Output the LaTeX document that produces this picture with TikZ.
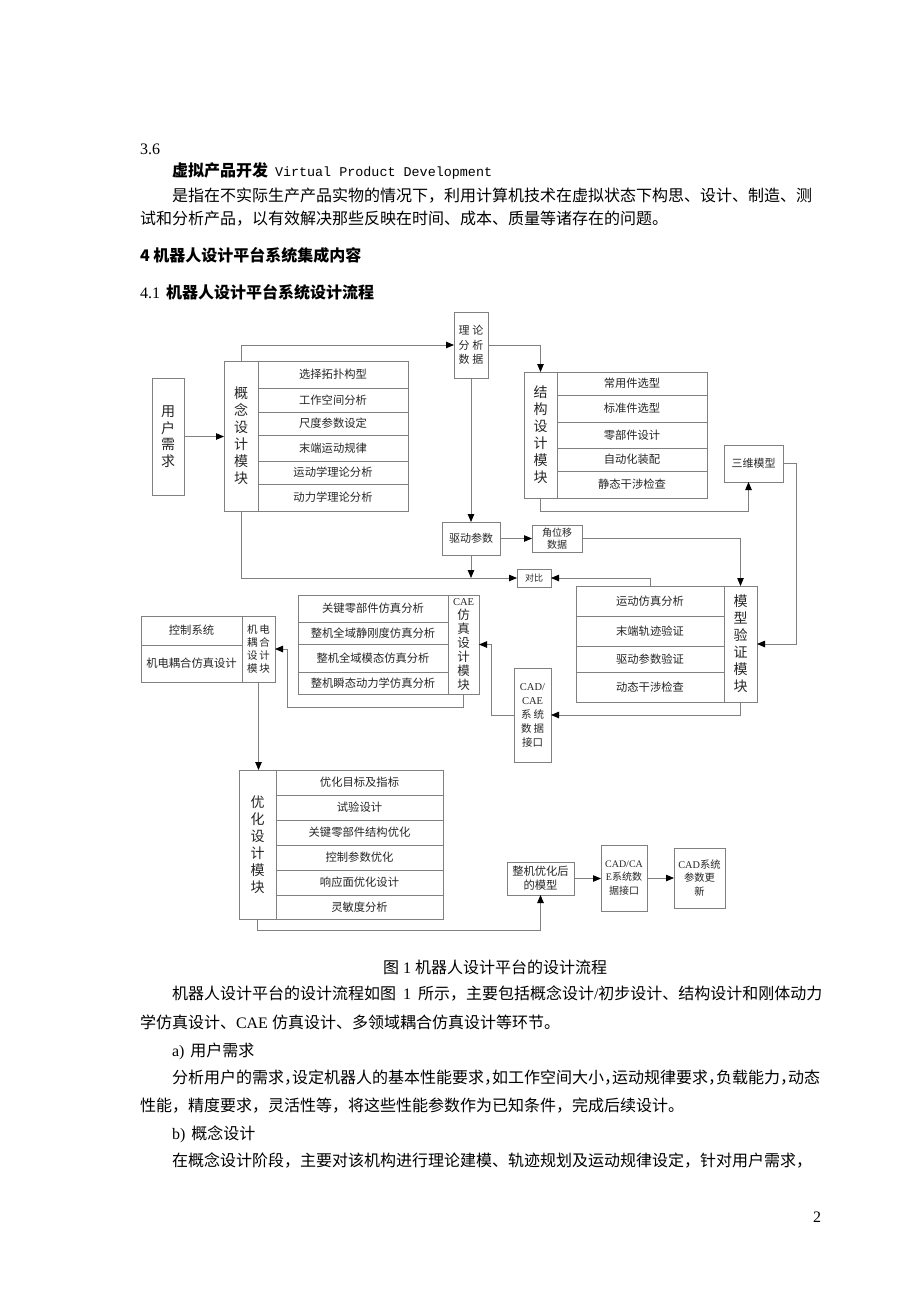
\documentclass[tikz,border=0pt]{standalone}
\usepackage{fontspec}
\setmainfont{Liberation Serif}
\newfontfamily\cjk{Noto Sans CJK SC}
\newfontfamily\mono{Liberation Mono}
\usetikzlibrary{arrows.meta}
\definecolor{linec}{gray}{0.5}
\definecolor{boxtext}{gray}{0.15}
\newcommand\lat[1]{{\rmfamily\fontsize{10.5}{14}\selectfont #1}}
\newcommand\rbox[7][]{%
  \node[bx,minimum width={#5pt-#3pt},minimum height={#6pt-#4pt},#1] (#2) at ({(#3+#5)/2},{(#4+#6)/2}) {#7};}
\tikzset{
  bx/.style={draw=linec, line width=0.8pt, inner sep=0pt, outer sep=0pt, text=boxtext, align=center,
    font=\cjk\fontsize{11.3}{13}\selectfont},
  vlab/.style={font=\cjk\fontsize{14}{17}\selectfont},
  arr/.style={draw=linec, line width=0.8pt, -{Triangle[length=8pt,width=6.5pt,color=black]}},
  txt/.style={anchor=base west, inner sep=0pt, outer sep=0pt, font=\fontsize{16}{19}\selectfont},
}
\begin{document}
\begin{tikzpicture}[x=1pt,y=-1pt]
\useasboundingbox (0,0) rectangle (920,1301);
\fill[white] (0,0) rectangle (920,1301);

% ---------- top text ----------
\node[txt] (h36) at (140,154) {3.6};
\node[txt] (vpd) at (172,176) {{\cjk\bfseries 虚拟产品开发}\hspace{7pt}{\mono\fontsize{13.4}{16}\selectfont Virtual Product Development}};
\node[txt] (p1) at (172,201) {\cjk 是指在不实际生产产品实物的情况下，利用计算机技术在虚拟状态下构思、设计、制造、测};
\node[txt] (p2) at (140,224) {\cjk 试和分析产品，以有效解决那些反映在时间、成本、质量等诸存在的问题。};
\node[txt] (h4) at (140,261) {\cjk\bfseries 4 机器人设计平台系统集成内容};
\node[txt] (h41) at (140,298) {4.1\hspace{6pt}{\cjk\bfseries 机器人设计平台系统设计流程}};

% ---------- diagram boxes ----------
\rbox[vlab,font=\cjk\fontsize{14}{16.5}\selectfont]{user}{152}{378}{184}{495}{用\\户\\需\\求}
\rbox[vlab]{conceptL}{224}{361}{258}{511}{概\\念\\设\\计\\模\\块}
\rbox{c1}{258}{361}{408}{388}{选择拓扑构型}
\rbox{c2}{258}{388}{408}{412}{工作空间分析}
\rbox{c3}{258}{412}{408}{435}{尺度参数设定}
\rbox{c4}{258}{435}{408}{461}{末端运动规律}
\rbox{c5}{258}{461}{408}{484}{运动学理论分析}
\rbox{c6}{258}{484}{408}{511}{动力学理论分析}

\rbox[font=\cjk\fontsize{11}{14.5}\selectfont]{theory}{454}{312}{488}{378}{理\hspace{3pt}论\\分\hspace{3pt}析\\数\hspace{3pt}据}

\rbox[vlab]{structL}{524}{372}{557}{498}{结\\构\\设\\计\\模\\块}
\rbox{s1}{557}{372}{707}{395}{常用件选型}
\rbox{s2}{557}{395}{707}{422}{标准件选型}
\rbox{s3}{557}{422}{707}{448}{零部件设计}
\rbox{s4}{557}{448}{707}{471}{自动化装配}
\rbox{s5}{557}{471}{707}{498}{静态干涉检查}

\rbox[font=\cjk\fontsize{11}{13}\selectfont]{model3d}{724}{445}{783}{482}{三维模型}

\rbox[font=\cjk\fontsize{11}{13}\selectfont]{drive}{442}{522}{500}{555}{驱动参数}
\rbox[font=\cjk\fontsize{10}{12}\selectfont]{angle}{532}{525}{582}{552}{角位移\\数据}
\rbox[font=\cjk\fontsize{9}{11}\selectfont]{compare}{517}{569}{551}{587}{对比}

\rbox{v1}{576}{586}{724}{616}{运动仿真分析}
\rbox{v2}{576}{616}{724}{646}{末端轨迹验证}
\rbox{v3}{576}{646}{724}{672}{驱动参数验证}
\rbox{v4}{576}{672}{724}{702}{动态干涉检查}
\rbox[vlab]{verifyR}{724}{586}{757}{702}{模\\型\\验\\证\\模\\块}

\rbox[font=\cjk\fontsize{10.5}{14}\selectfont]{cadcae}{514}{668}{551}{762}{\lat{CAD/}\\\lat{CAE}\\系\hspace{2pt}统\\数\hspace{2pt}据\\接口}

\rbox{e1}{298}{595}{448}{622}{关键零部件仿真分析}
\rbox{e2}{298}{622}{448}{644}{整机全域静刚度仿真分析}
\rbox{e3}{298}{644}{448}{672}{整机全域模态仿真分析}
\rbox{e4}{298}{672}{448}{694}{整机瞬态动力学仿真分析}
\rbox[font=\cjk\fontsize{12.5}{14}\selectfont]{caeR}{448}{595}{479}{694}{\lat{CAE}\\仿\\真\\设\\计\\模\\块}

\rbox{m1}{141}{616}{242}{645}{控制系统}
\rbox{m2}{141}{645}{242}{682}{机电耦合仿真设计}
\rbox[font=\cjk\fontsize{10.5}{13}\selectfont]{mechR}{242}{616}{275}{682}{机\hspace{2pt}电\\耦\hspace{2pt}合\\设\hspace{2pt}计\\模\hspace{2pt}块}

\rbox[vlab]{optL}{239}{770}{276}{919}{优\\化\\设\\计\\模\\块}
\rbox{o1}{276}{770}{443}{795}{优化目标及指标}
\rbox{o2}{276}{795}{443}{820}{试验设计}
\rbox{o3}{276}{820}{443}{845}{关键零部件结构优化}
\rbox{o4}{276}{845}{443}{870}{控制参数优化}
\rbox{o5}{276}{870}{443}{895}{响应面优化设计}
\rbox{o6}{276}{895}{443}{919}{灵敏度分析}

\rbox[font=\cjk\fontsize{11.3}{14}\selectfont]{final}{507}{862}{574}{895}{整机优化后\\的模型}
\rbox[font=\cjk\fontsize{10}{13.5}\selectfont]{cad2}{601}{845}{647}{911}{{\rmfamily CAD/CA}\\{\rmfamily E}系统数\\据接口}
\rbox[font=\cjk\fontsize{10.3}{13.5}\selectfont]{cad3}{674}{848}{725}{908}{{\rmfamily CAD}系统\\参数更\\新}

% ---------- connectors ----------
\draw[arr] (user.east) -- (user.east -| conceptL.west);
\draw[arr] (conceptL.north) |- (theory.west);
\draw[arr] (theory.east) -| (structL.north);
\draw[arr] (structL.south) -- ++(0,13) -| ([xshift=-5pt]model3d.south);
\draw[arr] (model3d.east) -| ([xshift=39pt]verifyR.east) -- (verifyR.east);
\draw[arr] (theory.south) -- (drive.north);
\draw[arr] (drive.east) -- (angle.west);
\draw[arr] (angle.east) -| (verifyR.north);
\draw[arr] (conceptL.south) |- (compare.west);
\draw[arr] (drive.south) -- (drive.south |- compare.west);
\draw[arr] (v1.north) |- (compare.east);
\draw[arr] (verifyR.south) |- (cadcae.east);
\draw[arr] (cadcae.west) -- ++(-23,0) |- (caeR.east);
\draw[arr] (caeR.south) -- ++(0,13) -| ([xshift=12pt]mechR.east) -- (mechR.east);
\draw[arr] (mechR.south) -- (mechR.south |- optL.north);
\draw[arr] (optL.south) -- ++(0,11) -| (final.south);
\draw[arr] (final.east) -- (final.east -| cad2.west);
\draw[arr] (cad2.east) -- (cad2.east -| cad3.west);

% ---------- bottom text ----------
\node[txt] (cap) at (383,973) {{\cjk 图} 1 {\cjk 机器人设计平台的设计流程}};
\node[txt] (b1) at (172,999) {{\cjk 机器人设计平台的设计流程如图}\hspace{7pt}1\hspace{7pt}{\cjk 所示，主要包括概念设计}/{\cjk 初步设计、结构设计和刚体动力}};
\node[txt] (b2) at (140,1028) {{\cjk 学仿真设计、}CAE {\cjk 仿真设计、多领域耦合仿真设计等环节。}};
\node[txt] (b3) at (172,1056) {a)\hspace{6pt}{\cjk 用户需求}};
\node[txt] (b4) at (172,1083) {\cjk 分析用户的需求，\kern-8pt 设定机器人的基本性能要求，\kern-8pt 如工作空间大小，\kern-8pt 运动规律要求，\kern-8pt 负载能力，\kern-8pt 动态};
\node[txt] (b5) at (140,1111) {\cjk 性能，精度要求，灵活性等，将这些性能参数作为已知条件，完成后续设计。};
\node[txt] (b6) at (172,1139) {b)\hspace{6pt}{\cjk 概念设计}};
\node[txt] (b7) at (172,1166) {\cjk 在概念设计阶段，主要对该机构进行理论建模、轨迹规划及运动规律设定，针对用户需求，};
\node[txt] (pg) at (813,1222) {2};
\end{tikzpicture}
\end{document}
